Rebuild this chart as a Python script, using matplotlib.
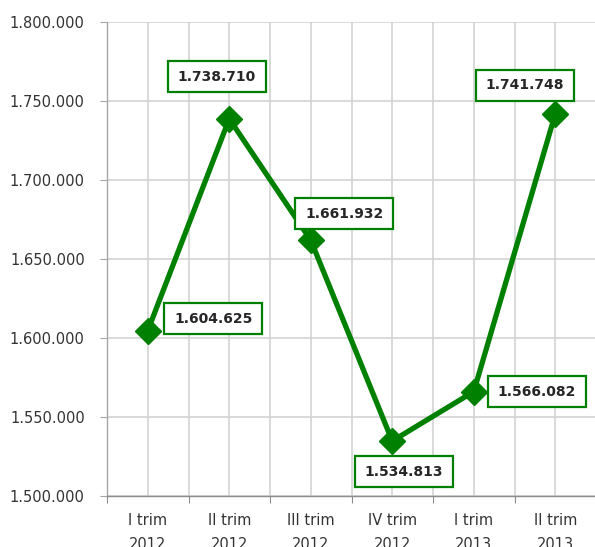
import matplotlib
matplotlib.use("Agg")
import matplotlib.pyplot as plt
import matplotlib.transforms as mtransforms
from matplotlib.patches import Rectangle
from matplotlib.ticker import FuncFormatter, MultipleLocator, FixedLocator

categories = ["I trim\n2012", "II trim\n2012", "III trim\n2012",
              "IV trim\n2012", "I trim\n2013", "II trim\n2013"]
values = [1604625, 1738710, 1661932, 1534813, 1566082, 1741748]
# label box offsets (pixels) from each point
label_offsets = [(65.5, 12), (-12.5, 42), (33.5, 26.5), (11.5, -31), (63, 0), (-30.5, 29)]

GREEN = "#008000"
DPI = 100
fig = plt.figure(figsize=(5.95, 5.47), dpi=DPI)
ax = fig.add_axes([107 / 595, 51 / 547, 489 / 595, 474 / 547])

x = list(range(len(values)))
ax.set_xlim(-0.5, len(values) - 0.5)
ax.set_ylim(1500000, 1800000)

# grid: vertical lines at categories and at boundaries
ax.xaxis.set_major_locator(FixedLocator([i - 0.5 for i in range(len(values) + 1)]))
ax.xaxis.set_minor_locator(FixedLocator(x))
ax.set_xticklabels([])
ax.set_xticklabels(categories, minor=True)
ax.yaxis.set_major_locator(MultipleLocator(50000))

def fmt(v, pos=None):
    return f"{int(round(v)):,}".replace(",", ".")

ax.yaxis.set_major_formatter(FuncFormatter(fmt))

ax.grid(True, which="both", axis="x", color="#d0d0d0", lw=1.1)
ax.grid(True, which="major", axis="y", color="#d0d0d0", lw=1.1)
ax.set_axisbelow(True)

for s in ["top", "right"]:
    ax.spines[s].set_visible(False)
ax.spines["left"].set_color("#a6a6a6")
ax.spines["bottom"].set_color("#8c8c8c")
ax.spines["left"].set_linewidth(1.0)
ax.spines["bottom"].set_linewidth(1.0)

ax.tick_params(axis="y", which="major", length=5, color="#a6a6a6",
               labelsize=10.5, labelcolor="#333333", pad=11)
ax.tick_params(axis="x", which="major", length=5, color="#8c8c8c", direction="out")
ax.tick_params(axis="x", which="minor", length=0, labelsize=10.5,
               labelcolor="#333333", pad=12)
for t in ax.get_xticklabels(minor=True):
    t.set_linespacing(1.75)

ax.plot(x, values, color=GREEN, lw=3.8, marker="D", markersize=13,
        markerfacecolor=GREEN, markeredgecolor=GREEN, zorder=3, clip_on=False)

for xi, v, (dx, dy) in zip(x, values, label_offsets):
    trans = mtransforms.Affine2D().translate(dx, dy) + \
        mtransforms.ScaledTranslation(xi, v, ax.transData)
    rect = Rectangle((-49, -15.5), 98, 31, transform=trans, facecolor="white",
                     edgecolor=GREEN, lw=1.6, zorder=4, clip_on=False)
    ax.add_patch(rect)
    ax.text(0, 0, fmt(v), transform=trans, ha="center", va="center",
            fontsize=10, fontweight="bold", color="#262626", zorder=5,
            clip_on=False)

fig.savefig("out.png", dpi=DPI)
